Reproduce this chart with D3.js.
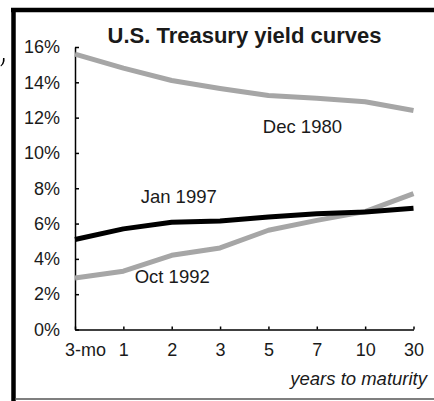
<!DOCTYPE html>
<html><head><meta charset="utf-8">
<script src="https://cdn.jsdelivr.net/npm/d3@7"></script>
<style>
html,body{margin:0;padding:0;background:#fff;}
svg{display:block;}
text{font-family:"Liberation Sans",Arial,Helvetica,sans-serif;fill:#1a1a1a;}
</style></head><body>
<svg id="c" width="434" height="401"></svg>
<script>
const categories = ["3-mo","1","2","3","5","7","10","30"];
const dec1980 = [15.6, 14.8, 14.1, 13.65, 13.25, 13.1, 12.9, 12.4];
const jan1997 = [5.1, 5.7, 6.07, 6.15, 6.37, 6.56, 6.66, 6.87];
const oct1992 = [2.92, 3.3, 4.2, 4.62, 5.62, 6.18, 6.68, 7.7];
const yTicks = [0, 2, 4, 6, 8, 10, 12, 14, 16];
const seriesNames = ["Dec 1980", "Jan 1997", "Oct 1992"];
const titleText = "U.S. Treasury yield curves";
const xTitle = "years to maturity";

const svg = d3.select("#c");
const x = d3.scalePoint().domain(categories).range([75, 413.5]);
const y = d3.scaleLinear().domain([0, 16]).range([329.5, 47]);

// frame
svg.append("line").attr("x1", 11).attr("x2", 434).attr("y1", 10).attr("y2", 10)
  .attr("stroke", "#000").attr("stroke-width", 4.5);
svg.append("line").attr("x1", 13.5).attr("x2", 13.5).attr("y1", 8).attr("y2", 401)
  .attr("stroke", "#000").attr("stroke-width", 4.5);
svg.append("line").attr("x1", 15).attr("x2", 434).attr("y1", 399).attr("y2", 399)
  .attr("stroke", "#555").attr("stroke-width", 1.5);
// stray comma mark at left edge
svg.append("path").attr("d", "M3,58 L4.5,58 L4.5,61 Q4,64.5 1,66.5 L0.5,65.5 Q2.5,63.5 2.8,61.5 Z")
  .attr("fill", "#000");

// axes
const yAxis = d3.axisLeft(y).tickValues(yTicks).tickFormat(d => d + "%")
  .tickSizeInner(-4).tickSizeOuter(0).tickPadding(15);
const gy = svg.append("g").attr("transform", "translate(75,0)").call(yAxis);
gy.selectAll("text").attr("font-size", 18).style("font-family", '"Liberation Sans",Arial,sans-serif').attr("fill", "#1a1a1a");
gy.selectAll("line,path").attr("stroke", "#000").attr("stroke-width", 1.5);

const xAxis = d3.axisBottom(x).tickSizeInner(-3).tickSizeOuter(0).tickPadding(14);
const gx = svg.append("g").attr("transform", "translate(0," + y(0) + ")").call(xAxis);
gx.selectAll("text").attr("font-size", 18).style("font-family", '"Liberation Sans",Arial,sans-serif').attr("fill", "#1a1a1a");
gx.selectAll("line,path").attr("stroke", "#000").attr("stroke-width", 1.5);
gx.selectAll(".tick").filter(d => d === "3-mo").select("text").attr("dx", 10);

// lines
const line = d3.line().x((d, i) => x(categories[i])).y(d => y(d));
function drawSeries(vals, color) {
  svg.append("path").datum(vals).attr("d", line)
    .attr("fill", "none").attr("stroke", color).attr("stroke-width", 5)
    .attr("stroke-linejoin", "round");
}
drawSeries(dec1980, "#a6a6a6");
drawSeries(oct1992, "#a6a6a6");
drawSeries(jan1997, "#000");

// series labels
const lbl = [
  {t: seriesNames[0], x: x("5") + 34, y: y(11.12)},
  {t: seriesNames[1], x: x("2") + 7, y: y(7.14)},
  {t: seriesNames[2], x: x("2") + 0.5, y: y(2.62)}
];
svg.selectAll("text.slbl").data(lbl).enter().append("text").attr("class", "slbl")
  .attr("x", d => d.x).attr("y", d => d.y).attr("text-anchor", "middle")
  .attr("font-size", 18.5).text(d => d.t);

// title
svg.append("text").attr("x", 244.5).attr("y", 42.5).attr("text-anchor", "middle")
  .attr("font-size", 22).attr("font-weight", "bold").attr("fill", "#000").text(titleText);

// x-axis title
svg.append("text").attr("x", 427).attr("y", 384.5).attr("text-anchor", "end")
  .attr("font-size", 18.5).attr("font-style", "italic").text(xTitle);
</script>
</body></html>
